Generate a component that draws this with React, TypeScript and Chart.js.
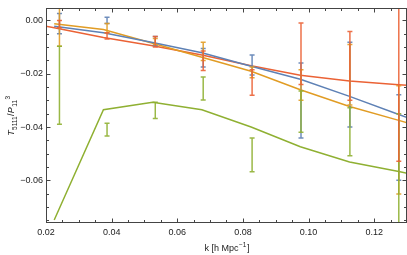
import React, { useEffect, useRef } from "react";
import { Chart, registerables } from "chart.js";
Chart.register(...registerables);

// ---- data ----
const xTicks = [0.02, 0.04, 0.06, 0.08, 0.1, 0.12];
const yTicks = [0, -0.02, -0.04, -0.06];

// theory curves
const kBlue = [0.0225, 0.0375, 0.0525, 0.0675, 0.0825, 0.0975, 0.1125, 0.1275, 0.1425];
const blueLine = [-0.0022, -0.0046, -0.0083, -0.0121, -0.0172, -0.0221, -0.0285, -0.0353, -0.0421];
const kOrange = [0.0225, 0.0375, 0.0525, 0.0675, 0.0825, 0.0975, 0.1125, 0.1275, 0.1425];
const orangeLine = [-0.0013, -0.0034, -0.0086, -0.0138, -0.0191, -0.026, -0.0323, -0.0375, -0.0427];
const kGreen = [0.0225, 0.0375, 0.0525, 0.0675, 0.0825, 0.0975, 0.1125, 0.1275, 0.1425];
const greenLine = [-0.0749, -0.0335, -0.0307, -0.0335, -0.04, -0.0474, -0.0531, -0.0567, -0.0603];
const kRed = [0.0075, 0.0225, 0.0375, 0.0525, 0.0675, 0.0825, 0.0975, 0.1125, 0.1275, 0.1425];
const redLine = [0.0008, -0.0028, -0.0064, -0.0095, -0.013, -0.017, -0.0206, -0.0227, -0.0241, -0.0255];

// measurements (error bars)
const kData = [0.0241, 0.0386, 0.0533, 0.0679, 0.0828, 0.0977, 0.1126, 0.1275];
const blueHi = [0.0026, 0.0012, -0.006, -0.0105, -0.013, -0.016, -0.0082, -0.0279];
const blueLo = [-0.005, -0.0012, -0.0095, -0.0175, -0.0205, -0.0441, -0.04, -0.06];
const orangeHi = [0.008, -0.0012, -0.0068, -0.0082, -0.0175, -0.0185, -0.009, -0.0245];
const orangeLo = [-0.0097, -0.0046, -0.009, -0.015, -0.0215, -0.03, -0.0317, -0.0651];
const greenHi = [-0.0097, -0.0386, -0.0307, -0.0212, -0.0441, -0.0265, -0.0328, -0.035];
const greenLo = [-0.039, -0.0434, -0.0368, -0.0299, -0.0568, -0.042, -0.0508, -0.09];
const redHi = [0.0, -0.0046, -0.006, -0.0115, -0.0185, -0.001, -0.0042, 0.01];
const redLo = [-0.0028, -0.007, -0.01, -0.0188, -0.0281, -0.024, -0.03, -0.0528];

const BLUE = "rgb(94,129,181)";
const ORANGE = "rgb(225,156,36)";
const GREEN = "rgb(143,176,50)";
const RED = "rgb(235,98,53)";
const alpha = (c: string, a: number) => c.replace("rgb(", "rgba(").replace(")", "," + a + ")");

const errorSeries = [
  { color: BLUE, hi: blueHi, lo: blueLo },
  { color: ORANGE, hi: orangeHi, lo: orangeLo },
  { color: GREEN, hi: greenHi, lo: greenLo },
  { color: RED, hi: redHi, lo: redLo },
];

const FONT = "'Liberation Sans', Arial, sans-serif";
const fmt = (v: number) => (Math.abs(v) < 1e-9 ? "0.00" : v.toFixed(2).replace("-", "\u2212"));

const framePlugin = {
  id: "framePlugin",
  afterDatasetsDraw(chart: any) {
    const { ctx, chartArea: a, scales } = chart;
    const xs = scales.x, ys = scales.y;
    ctx.save();
    ctx.beginPath();
    ctx.rect(a.left, a.top, a.right - a.left, a.bottom - a.top);
    ctx.clip();
    ctx.lineWidth = 1.5;
    ctx.lineCap = "butt";
    for (const s of errorSeries) {
      ctx.strokeStyle = alpha(s.color, 0.9);
      for (let i = 0; i < kData.length; i++) {
        const px = xs.getPixelForValue(kData[i]);
        const y1 = ys.getPixelForValue(s.hi[i]);
        const y2 = ys.getPixelForValue(s.lo[i]);
        ctx.beginPath();
        ctx.moveTo(px, y1);
        ctx.lineTo(px, y2);
        ctx.moveTo(px - 2.5, y1);
        ctx.lineTo(px + 2.5, y1);
        ctx.moveTo(px - 2.5, y2);
        ctx.lineTo(px + 2.5, y2);
        ctx.stroke();
      }
    }
    ctx.restore();
  },
  afterDraw(chart: any) {
    const { ctx, chartArea: a, scales } = chart;
    const xs = scales.x, ys = scales.y;
    ctx.save();
    ctx.strokeStyle = "#444";
    ctx.lineWidth = 1;
    const L = Math.round(a.left) + 0.5, R = Math.round(a.right) - 0.5;
    const T = Math.round(a.top) + 0.5, B = Math.round(a.bottom) - 0.5;
    ctx.strokeRect(L, T, R - L, B - T);
    ctx.beginPath();
    for (let i = 20; i <= 130; i += 5) {
      const px = Math.round(xs.getPixelForValue(i / 1000)) + 0.5;
      const len = i % 20 === 0 ? 4 : 2.5;
      ctx.moveTo(px, B);
      ctx.lineTo(px, B - len);
      ctx.moveTo(px, T);
      ctx.lineTo(px, T + len);
    }
    for (let i = -75; i <= 0; i += 5) {
      const py = Math.round(ys.getPixelForValue(i / 1000)) + 0.5;
      const len = i % 20 === 0 ? 4 : 2.5;
      ctx.moveTo(L, py);
      ctx.lineTo(L + len, py);
      ctx.moveTo(R, py);
      ctx.lineTo(R - len, py);
    }
    ctx.stroke();

    // x title
    ctx.fillStyle = "#222";
    ctx.textBaseline = "alphabetic";
    const main = "9px " + FONT;
    const small = "6.5px " + FONT;
    const p1 = "k [h Mpc", p2 = "\u22121", p3 = "]";
    ctx.font = main;
    const w1 = ctx.measureText(p1).width, w3 = ctx.measureText(p3).width;
    ctx.font = small;
    const w2 = ctx.measureText(p2).width;
    const cx = (a.left + a.right) / 2;
    const x0 = cx - (w1 + w2 + w3) / 2;
    const by = 251;
    ctx.textAlign = "left";
    ctx.font = main;
    ctx.fillText(p1, x0, by);
    ctx.font = small;
    ctx.fillText(p2, x0 + w1 + 0.5, by - 4);
    ctx.font = main;
    ctx.fillText(p3, x0 + w1 + w2 + 1, by);

    // y title
    const parts = [
      { t: "T", f: "italic 9px " + FONT, dy: 0 },
      { t: "5111", f: "6.5px " + FONT, dy: 2.5 },
      { t: "/", f: "9px " + FONT, dy: 0 },
      { t: "P", f: "italic 9px " + FONT, dy: 0 },
      { t: "11", f: "6.5px " + FONT, dy: 2.5 },
      { t: "3", f: "6.5px " + FONT, dy: -4.5 },
    ];
    let total = 0;
    const widths = parts.map((p) => {
      ctx.font = p.f;
      const w = ctx.measureText(p.t).width + 0.4;
      total += w;
      return w;
    });
    ctx.translate(14, (a.top + a.bottom) / 2);
    ctx.rotate(-Math.PI / 2);
    let xx = -total / 2;
    parts.forEach((p, i) => {
      ctx.font = p.f;
      ctx.fillText(p.t, xx, p.dy);
      xx += widths[i];
    });
    ctx.restore();
  },
};

export default function App() {
  const ref = useRef<HTMLCanvasElement>(null);
  useEffect(() => {
    document.body.style.margin = "0";
    const mk = (k: number[], v: number[]) => k.map((x, i) => ({ x, y: v[i] }));
    const ds = (label: string, color: string, k: number[], v: number[]) => ({
      label,
      data: mk(k, v),
      borderColor: color,
      backgroundColor: color,
      borderWidth: 1.5,
      pointRadius: 0,
      tension: 0,
      fill: false,
    });
    const chart = new Chart(ref.current!, {
      type: "line",
      data: {
        datasets: [
          ds("blue", BLUE, kBlue, blueLine),
          ds("orange", ORANGE, kOrange, orangeLine),
          ds("green", GREEN, kGreen, greenLine),
          ds("red", RED, kRed, redLine),
        ],
      },
      options: {
        animation: false,
        responsive: false,
        events: [],
        layout: { padding: { left: 0, right: 0, top: 0, bottom: 0 } },
        plugins: { legend: { display: false }, tooltip: { enabled: false } },
        scales: {
          x: {
            type: "linear",
            min: 0.02,
            max: 0.13,
            afterFit: (s: any) => { s.height = 32; },
            afterBuildTicks: (s: any) => { s.ticks = xTicks.map((v) => ({ value: v })); },
            grid: { display: false, drawTicks: false },
            border: { display: false },
            ticks: {
              padding: 4,
              color: "#222",
              font: { family: FONT, size: 9 },
              maxRotation: 0,
              callback: (v: any) => fmt(Number(v)),
            },
          },
          y: {
            type: "linear",
            min: -0.076,
            max: 0.0045,
            afterFit: (s: any) => { s.width = 46; },
            afterBuildTicks: (s: any) => { s.ticks = yTicks.map((v) => ({ value: v })); },
            grid: { display: false, drawTicks: false },
            border: { display: false },
            ticks: {
              padding: 3,
              color: "#222",
              font: { family: FONT, size: 9 },
              callback: (v: any) => fmt(Number(v)),
            },
          },
        },
      },
      plugins: [framePlugin],
    } as any);
    return () => chart.destroy();
  }, []);
  return <canvas ref={ref} width={407} height={255} style={{ display: "block" }} />;
}
